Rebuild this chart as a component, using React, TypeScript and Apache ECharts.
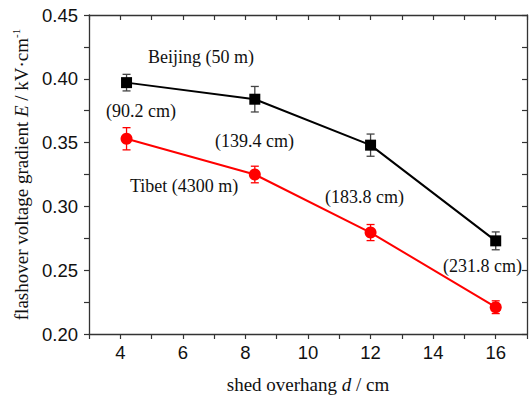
import React, { useEffect, useRef } from "react";
import * as echarts from "echarts";

const overhang = [4.2, 8.3, 12.0, 16.0];
const beijing = [0.397, 0.384, 0.348, 0.273];
const beijingErr = [0.0065, 0.0100, 0.0087, 0.0070];
const tibet = [0.353, 0.325, 0.2795, 0.221];
const tibetErr = [0.0087, 0.0065, 0.0063, 0.0050];
const distanceLabels = ["(90.2 cm)", "(139.4 cm)", "(183.8 cm)", "(231.8 cm)"];

const serif = "Liberation Serif";
const sans = "Liberation Sans";

function errorSeries(vals: number[], errs: number[], color: string) {
  return {
    type: "custom",
    silent: true,
    z: 3,
    data: overhang.map((x, i) => [x, vals[i] - errs[i], vals[i] + errs[i]]),
    renderItem: (params: any, api: any) => {
      const x = api.value(0);
      const lo = api.coord([x, api.value(1)]);
      const hi = api.coord([x, api.value(2)]);
      const w = 4;
      const style = { stroke: color, lineWidth: 1.3 };
      return {
        type: "group",
        children: [
          { type: "line", shape: { x1: lo[0], y1: lo[1], x2: hi[0], y2: hi[1] }, style },
          { type: "line", shape: { x1: lo[0] - w, y1: lo[1], x2: lo[0] + w, y2: lo[1] }, style },
          { type: "line", shape: { x1: hi[0] - w, y1: hi[1], x2: hi[0] + w, y2: hi[1] }, style },
        ],
      };
    },
  };
}

export default function App() {
  const ref = useRef<HTMLDivElement>(null);
  useEffect(() => {
    const chart = echarts.init(ref.current!, undefined, { renderer: "svg" });
    const axisLine = { show: true, lineStyle: { color: "#333", width: 1.3 } };
    const textStyle = { fontFamily: serif, fontSize: 18, fill: "#111" };
    const annotations = [
      { text: "Beijing (50 m)", x: 148, y: 58 },
      { text: distanceLabels[0], x: 106, y: 112 },
      { text: distanceLabels[1], x: 215, y: 142 },
      { text: "Tibet (4300 m)", x: 130, y: 187 },
      { text: distanceLabels[2], x: 325, y: 198 },
      { text: distanceLabels[3], x: 443, y: 267 },
    ];
    chart.setOption({
      animation: false,
      grid: { left: 89, right: 4, top: 15, bottom: 62 },
      xAxis: [
        {
          type: "value",
          min: 3,
          max: 17,
          interval: 1,
          axisLine,
          splitLine: { show: false },
          axisTick: { show: true, length: 5, lineStyle: { color: "#333", width: 1.2 } },
          axisLabel: {
            fontFamily: sans,
            fontSize: 18.5,
            color: "#111",
            margin: 9,
            formatter: (v: number) => (v % 2 === 0 ? String(v) : ""),
          },
          name: "shed overhang {i|d} / cm",
          nameLocation: "middle",
          nameGap: 41,
          nameTextStyle: {
            fontFamily: serif,
            fontSize: 19,
            color: "#111",
            rich: { i: { fontFamily: serif, fontSize: 19, fontStyle: "italic", color: "#111" } },
          },
        },
        {
          type: "value",
          position: "top",
          min: 3,
          max: 17,
          interval: 1,
          axisLine,
          splitLine: { show: false },
          axisTick: { show: true, inside: true, length: 5, lineStyle: { color: "#333", width: 1.2 } },
          axisLabel: { show: false },
        },
      ],
      yAxis: [
        {
          type: "value",
          min: 0.2,
          max: 0.45,
          interval: 0.05,
          axisLine,
          splitLine: { show: false },
          axisTick: { show: true, length: 5, lineStyle: { color: "#333", width: 1.2 } },
          minorTick: { show: true, splitNumber: 2, length: 5, lineStyle: { color: "#333", width: 1.2 } },
          minorSplitLine: { show: false },
          axisLabel: {
            fontFamily: sans,
            fontSize: 18.5,
            color: "#111",
            margin: 11,
            formatter: (v: number) => v.toFixed(2),
          },
          name: "flashover voltage gradient {i|E} / kV·cm{s|-1}",
          nameLocation: "middle",
          nameRotate: 90,
          nameGap: 55,
          nameTextStyle: {
            fontFamily: serif,
            fontSize: 19,
            color: "#111",
            rich: {
              i: { fontFamily: serif, fontSize: 19, fontStyle: "italic", color: "#111" },
              s: { fontFamily: serif, fontSize: 11, color: "#111", padding: [0, 0, 11, 0] },
            },
          },
        },
        {
          type: "value",
          position: "right",
          min: 0.2,
          max: 0.45,
          interval: 0.05,
          axisLine,
          splitLine: { show: false },
          axisTick: { show: true, inside: true, length: 5, lineStyle: { color: "#333", width: 1.2 } },
          minorTick: { show: true, splitNumber: 2, length: 5, lineStyle: { color: "#333", width: 1.2 } },
          minorSplitLine: { show: false },
          axisLabel: { show: false },
        },
      ],
      series: [
        errorSeries(beijing, beijingErr, "#444"),
        errorSeries(tibet, tibetErr, "#ff0000"),
        {
          type: "line",
          name: "Beijing (50 m)",
          data: overhang.map((x, i) => [x, beijing[i]]),
          symbol: "rect",
          symbolSize: 11,
          itemStyle: { color: "#000" },
          lineStyle: { color: "#000", width: 2 },
          z: 4,
        },
        {
          type: "line",
          name: "Tibet (4300 m)",
          data: overhang.map((x, i) => [x, tibet[i]]),
          symbol: "circle",
          symbolSize: 12,
          itemStyle: { color: "#ff0000" },
          lineStyle: { color: "#ff0000", width: 2 },
          z: 4,
        },
      ],
      graphic: annotations.map((a) => ({
        type: "text",
        left: a.x,
        top: a.y - 10,
        style: { ...textStyle, text: a.text },
        z: 10,
      })),
    });
    return () => chart.dispose();
  }, []);
  return (
    <div
      ref={ref}
      style={{ position: "absolute", left: 0, top: 0, width: 531, height: 399 }}
    />
  );
}
